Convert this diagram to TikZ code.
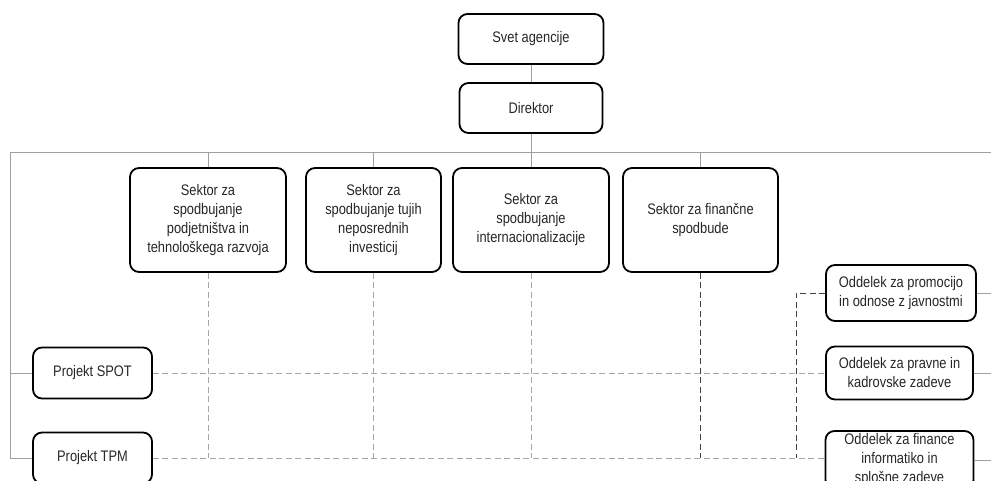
\documentclass[tikz,border=0pt]{standalone}
\usepackage{fontspec}
\setmainfont{Liberation Sans}[FakeStretch=0.84]

\begin{document}
\begin{tikzpicture}[
  x=1pt, y=-1pt,
  font=\fontsize{15.3}{19}\selectfont,
  unit/.style={draw=black,line width=1.8pt,rounded corners=9pt,align=center,inner sep=2pt,text=black!85},
  sector/.style={unit,minimum width=156pt,minimum height=104pt},
  project/.style={unit,minimum width=119pt,minimum height=51pt},
  office/.style={unit,minimum width=148pt},
  link/.style={draw=gray!75,line width=1pt},
  staff/.style={draw=gray!70,line width=1pt,dash pattern=on 6pt off 3.5pt}
]
  \useasboundingbox (0,0) rectangle (991,481);
  \clip (0,0) rectangle (991,481);

  \node[unit,minimum width=145pt,minimum height=50pt] (svet-agencije) at (531,39) {Svet agencije};
  \node[unit,minimum width=143pt,minimum height=50pt] (direktor) at (531,108) {Direktor};

  \node[sector] (sektor-podjetnistvo) at (208,220) {Sektor za\\spodbujanje\\podjetništva in\\tehnološkega razvoja};
  \node[sector,minimum width=135pt] (sektor-investicije) at (373.5,220) {Sektor za\\spodbujanje tujih\\neposrednih\\investicij};
  \node[sector] (sektor-internacionalizacija) at (531,220) {Sektor za\\spodbujanje\\internacionalizacije};
  \node[sector,minimum width=155pt] (sektor-spodbude) at (700.5,220) {Sektor za finančne\\spodbude};

  \node[project] (projekt-spot) at (92.5,373) {Projekt SPOT};
  \node[project] (projekt-tpm) at (92.5,458) {Projekt TPM};

  \node[office,minimum width=150pt,minimum height=56pt] (oddelek-promocija) at (901,293) {Oddelek za promocijo\\in odnose z javnostmi};
  \node[office,minimum width=147pt,minimum height=53pt] (oddelek-pravne) at (899.5,373) {Oddelek za pravne in\\kadrovske zadeve};
  \node[office,minimum height=58pt] (oddelek-finance) at (899.5,460) {Oddelek za finance\\informatiko in\\splošne zadeve};

  \coordinate (bus-left) at (10,153);
  \coordinate (bus-right) at (1000,153);
  \coordinate (staff-line) at (796,0);

  \draw[link] (svet-agencije) -- (direktor);
  \draw[link] (direktor) -- (sektor-internacionalizacija);
  \draw[link] (bus-right) -- (bus-left) |- (projekt-tpm.west);
  \draw[link] (bus-left |- projekt-spot.west) -- (projekt-spot.west);
  \foreach \s in {podjetnistvo,investicije,spodbude}
    \draw[link] (sektor-\s.north) -- (sektor-\s.north |- bus-left);
  \foreach \o in {promocija,pravne,finance}
    \draw[link] (oddelek-\o.east) -- (oddelek-\o.east -| bus-right);

  \foreach \s in {podjetnistvo,investicije,internacionalizacija}
    \draw[staff] (sektor-\s.south) -- (sektor-\s.south |- projekt-tpm.east);
  \draw[staff,draw=black!75] (sektor-spodbude.south) -- (sektor-spodbude.south |- projekt-tpm.east);
  \draw[staff] (projekt-spot.east) -- (oddelek-pravne.west);
  \draw[staff] (projekt-tpm.east) -- (projekt-tpm.east -| oddelek-finance.west);
  \draw[staff,draw=black!75] (oddelek-promocija.west) -| (staff-line |- projekt-tpm.east);
\end{tikzpicture}
\end{document}
